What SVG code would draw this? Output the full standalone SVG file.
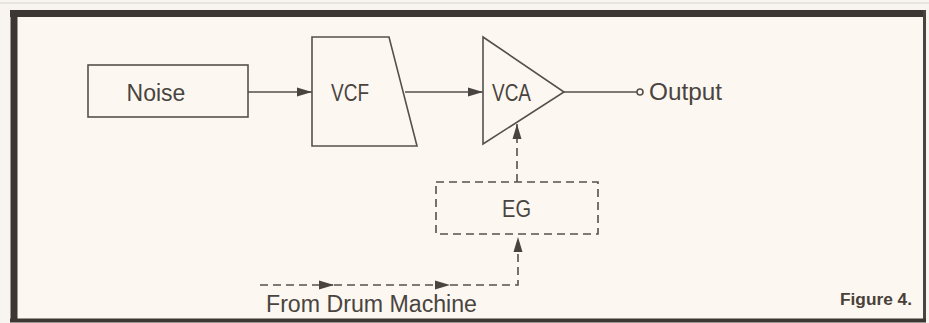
<svg xmlns="http://www.w3.org/2000/svg" width="929" height="323" viewBox="0 0 929 323">
<style>
.ln{fill:none;stroke:#56504b;stroke-width:1.6}
.dash{fill:none;stroke:#56504b;stroke-width:1.6;stroke-dasharray:8 5}
.t{font-family:"Liberation Sans",Arial,sans-serif;font-size:23px;fill:#4a4440}
.fig{font-family:"Liberation Sans",Arial,sans-serif;font-size:16px;font-weight:bold;fill:#4a403a}
</style>
<defs>
<marker id="ah" markerUnits="userSpaceOnUse" markerWidth="16" markerHeight="12" refX="15" refY="6" orient="auto">
<polygon points="0,1.5 15,6 0,10.5" fill="#4a4440"/>
</marker>
</defs>
<rect x="0" y="0" width="929" height="323" fill="#f8f5f1"/>
<line x1="0" y1="3" x2="929" y2="3" stroke="#d8d2cc" stroke-width="1"/>
<g id="frame">
<rect x="12" y="12" width="912" height="307" fill="#fcf8f1"/>
<line x1="14" y1="10" x2="14" y2="322" stroke="#3d3733" stroke-width="7"/>
<line x1="10" y1="13.5" x2="926" y2="13.5" stroke="#3d3733" stroke-width="7"/>
<line x1="924.5" y1="10" x2="924.5" y2="322" stroke="#4a4440" stroke-width="3"/>
<line x1="10" y1="320.5" x2="926" y2="320.5" stroke="#3d3733" stroke-width="4"/>
</g>
<g id="connectors">
<line class="ln" x1="248" y1="92" x2="312" y2="92" marker-end="url(#ah)"/>
<line class="ln" x1="405" y1="92" x2="483" y2="92" marker-end="url(#ah)"/>
<line class="ln" x1="564" y1="92" x2="637" y2="92"/>
<circle cx="640" cy="92" r="3" fill="#fcf8f1" stroke="#56504b" stroke-width="1.6"/>
<line class="dash" x1="517" y1="182" x2="517" y2="124" marker-end="url(#ah)"/>
<line class="dash" x1="260" y1="285" x2="334" y2="285" marker-end="url(#ah)"/>
<line class="dash" x1="334" y1="285" x2="450" y2="285" marker-end="url(#ah)"/>
<polyline class="dash" points="450,285 518,285 518,237" marker-end="url(#ah)"/>
</g>
<g id="noise">
<rect class="ln" x="88" y="65" width="160" height="52"/>
<text class="t" x="156" y="101" text-anchor="middle">Noise</text>
</g>
<g id="vcf">
<polygon class="ln" points="312,37 389,37 417,146 312,146"/>
<text class="t" x="331" y="101" textLength="38" lengthAdjust="spacingAndGlyphs">VCF</text>
</g>
<g id="vca">
<polygon class="ln" points="483,37 564,92 483,144"/>
<text class="t" x="492" y="101" textLength="39" lengthAdjust="spacingAndGlyphs">VCA</text>
</g>
<g id="output">
<text class="t" x="649" y="100" textLength="73" lengthAdjust="spacingAndGlyphs">Output</text>
</g>
<g id="eg">
<rect class="dash" x="436" y="182" width="162" height="52"/>
<text class="t" x="502" y="217" textLength="29" lengthAdjust="spacingAndGlyphs">EG</text>
</g>
<g id="source">
<text class="t" x="266" y="312" textLength="211" lengthAdjust="spacingAndGlyphs">From Drum Machine</text>
</g>
<g id="caption">
<text class="fig" x="840" y="305" textLength="72" lengthAdjust="spacingAndGlyphs">Figure 4.</text>
</g>
</svg>
